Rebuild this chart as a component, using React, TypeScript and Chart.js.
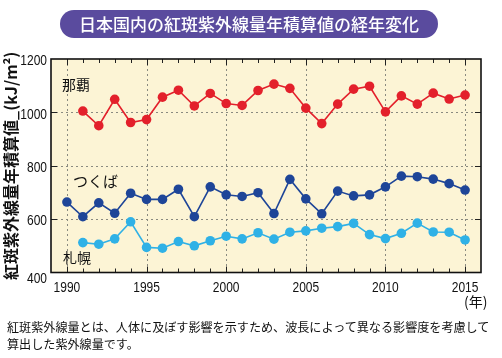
import React, { useEffect, useRef } from "react";
import { Chart, registerables } from "chart.js";

Chart.register(...registerables);

const years: number[] = [1990, 1991, 1992, 1993, 1994, 1995, 1996, 1997, 1998, 1999, 2000, 2001, 2002, 2003, 2004, 2005, 2006, 2007, 2008, 2009, 2010, 2011, 2012, 2013, 2014, 2015];
const naha: (number | null)[] = [null, 1005, 950, 1049, 962, 973, 1057, 1083, 1024, 1071, 1033, 1026, 1082, 1106, 1090, 1016, 958, 1031, 1087, 1098, 1002, 1062, 1031, 1072, 1050, 1065];
const tsukuba: (number | null)[] = [664, 609, 661, 622, 697, 674, 674, 712, 609, 721, 691, 685, 699, 621, 749, 676, 620, 705, 687, 691, 721, 761, 759, 750, 733, 709];
const sapporo: (number | null)[] = [null, 512, 506, 526, 590, 494, 491, 516, 500, 519, 536, 526, 549, 525, 551, 556, 566, 572, 584, 542, 527, 547, 585, 552, 551, 522];

const seriesNames = ["那覇", "つくば", "札幌"];
const xTicks: number[] = [1990, 1995, 2000, 2005, 2010, 2015];
const yTicks: number[] = [400, 600, 800, 1000, 1200];

const title = "日本国内の紅斑紫外線量年積算値の経年変化";
const yTitle = "紅斑紫外線量年積算値_(kJ/m²)";
const xUnit = "(年)";
const caption1 = "紅斑紫外線量とは、人体に及ぼす影響を示すため、波長によって異なる影響度を考慮して";
const caption2 = "算出した紫外線量です。";

const COLORS = ["#e3202b", "#1e4598", "#2fb1e6"];
const NUM_FONT = "'Liberation Sans', Arial, sans-serif";
const JP_FONT = "'Noto Sans CJK JP', 'Noto Sans', sans-serif";

const toPoints = (vals: (number | null)[]) =>
  years.map((y, i) => ({ x: y, y: vals[i] })).filter((p) => p.y !== null) as { x: number; y: number }[];

const condensedText = (ctx: any, text: string, x: number, y: number, align: string) => {
  ctx.save();
  ctx.translate(x, y);
  ctx.scale(0.8, 1);
  ctx.textAlign = align;
  ctx.textBaseline = "middle";
  ctx.fillText(text, 0, 0);
  ctx.restore();
};

const framePlugin = {
  id: "frame",
  beforeDatasetsDraw(chart: any) {
    const { ctx, chartArea, scales } = chart;
    const { left, right, top, bottom } = chartArea;
    const xs = scales.x;
    const ys = scales.y;
    ctx.save();
    ctx.fillStyle = "#fcf4d5";
    ctx.fillRect(left, top, right - left, bottom - top);
    // dashed grid
    ctx.strokeStyle = "#8a8a80";
    ctx.lineWidth = 1;
    ctx.setLineDash([2, 3]);
    xTicks.forEach((v) => {
      const px = Math.round(xs.getPixelForValue(v)) + 0.5;
      ctx.beginPath();
      ctx.moveTo(px, top);
      ctx.lineTo(px, bottom);
      ctx.stroke();
    });
    yTicks.slice(1, -1).forEach((v) => {
      const py = Math.round(ys.getPixelForValue(v)) + 0.5;
      ctx.beginPath();
      ctx.moveTo(left, py);
      ctx.lineTo(right, py);
      ctx.stroke();
    });
    ctx.setLineDash([]);
    // tick marks
    ctx.strokeStyle = "#222";
    ctx.lineWidth = 1;
    years.forEach((v) => {
      const px = Math.round(xs.getPixelForValue(v)) + 0.5;
      const len = v % 5 === 0 ? 6 : 4;
      ctx.beginPath();
      ctx.moveTo(px, top);
      ctx.lineTo(px, top + len);
      ctx.moveTo(px, bottom);
      ctx.lineTo(px, bottom - len);
      ctx.stroke();
    });
    yTicks.slice(1, -1).forEach((v) => {
      const py = Math.round(ys.getPixelForValue(v)) + 0.5;
      ctx.beginPath();
      ctx.moveTo(left, py);
      ctx.lineTo(left + 6, py);
      ctx.moveTo(right, py);
      ctx.lineTo(right - 6, py);
      ctx.stroke();
    });
    // border
    ctx.strokeStyle = "#111";
    ctx.lineWidth = 1.6;
    ctx.strokeRect(left, top, right - left, bottom - top);
    ctx.restore();
  },
  afterDraw(chart: any) {
    const { ctx, chartArea, scales } = chart;
    ctx.save();
    ctx.fillStyle = "#111";
    ctx.font = "15px " + NUM_FONT;
    yTicks.forEach((v) => {
      const py = scales.y.getPixelForValue(v) + (v === 400 ? 6 : 2);
      condensedText(ctx, String(v), chartArea.left - 4, py, "right");
    });
    xTicks.forEach((v) => {
      const px = scales.x.getPixelForValue(v);
      condensedText(ctx, String(v), px, chartArea.bottom + 15, "center");
    });
    ctx.restore();
  },
};

export default function App() {
  const ref = useRef<HTMLCanvasElement | null>(null);

  useEffect(() => {
    document.body.style.margin = "0";
    if (!ref.current) return;
    const mk = (i: number, vals: (number | null)[]) => ({
      label: seriesNames[i],
      data: toPoints(vals),
      borderColor: COLORS[i],
      backgroundColor: COLORS[i],
      borderWidth: 1.6,
      pointRadius: 4.8,
      pointBorderWidth: 0,
      pointBackgroundColor: COLORS[i],
      tension: 0,
    });
    const chart = new Chart(ref.current, {
      type: "line",
      data: { datasets: [mk(0, naha), mk(1, tsukuba), mk(2, sapporo)] },
      options: {
        animation: false,
        responsive: false,
        maintainAspectRatio: false,
        layout: { padding: { top: 59, right: 21, left: 0, bottom: 0 } },
        plugins: { legend: { display: false }, tooltip: { enabled: false }, title: { display: false } },
        scales: {
          x: {
            type: "linear",
            min: 1989,
            max: 2016,
            afterFit: (s: any) => { s.height = 85.5; },
            afterBuildTicks: (s: any) => { s.ticks = xTicks.map((v) => ({ value: v })); },
            grid: { display: false },
            border: { display: false },
            ticks: { display: false },
          },
          y: {
            type: "linear",
            min: 400,
            max: 1200,
            afterFit: (s: any) => { s.width = 51; },
            afterBuildTicks: (s: any) => { s.ticks = yTicks.map((v) => ({ value: v })); },
            grid: { display: false },
            border: { display: false },
            title: {
              display: true,
              text: yTitle,
              color: "#111",
              font: { family: JP_FONT, size: 16, weight: "600" },
              padding: { top: 1, bottom: 0 },
            },
            ticks: { display: false },
          },
        },
      } as any,
      plugins: [framePlugin],
    });
    return () => chart.destroy();
  }, []);

  const label = (text: string, left: number, top: number, size = 14) => (
    <span style={{ position: "absolute", left, top, fontFamily: JP_FONT, fontSize: size, lineHeight: 1, color: "#111", whiteSpace: "nowrap" }}>{text}</span>
  );

  return (
    <div style={{ position: "relative", width: 502, height: 358, background: "#fff", overflow: "hidden" }}>
      <canvas ref={ref} width={502} height={358} style={{ position: "absolute", left: 0, top: 0, width: 502, height: 358 }} />
      <div
        style={{
          position: "absolute",
          left: 60,
          top: 10,
          width: 378,
          height: 28,
          borderRadius: 14,
          background: "#5a4b9e",
          color: "#fff",
          fontFamily: JP_FONT,
          fontSize: 17,
          fontWeight: 500,
          lineHeight: "28px",
          textAlign: "center",
          whiteSpace: "nowrap",
        }}
      >
        {title}
      </div>
      {label(seriesNames[0], 62, 77)}
      {label(seriesNames[1], 73, 173, 15)}
      {label(seriesNames[2], 63, 250)}
      <span style={{ position: "absolute", left: 464, top: 294, fontFamily: JP_FONT, fontSize: 14, lineHeight: 1, color: "#111", whiteSpace: "nowrap" }}>{xUnit}</span>
      <div style={{ position: "absolute", left: 7, top: 318, fontFamily: JP_FONT, fontSize: 12.1, lineHeight: "17px", color: "#111", whiteSpace: "nowrap" }}>
        {caption1}
        <br />
        {caption2}
      </div>
    </div>
  );
}
